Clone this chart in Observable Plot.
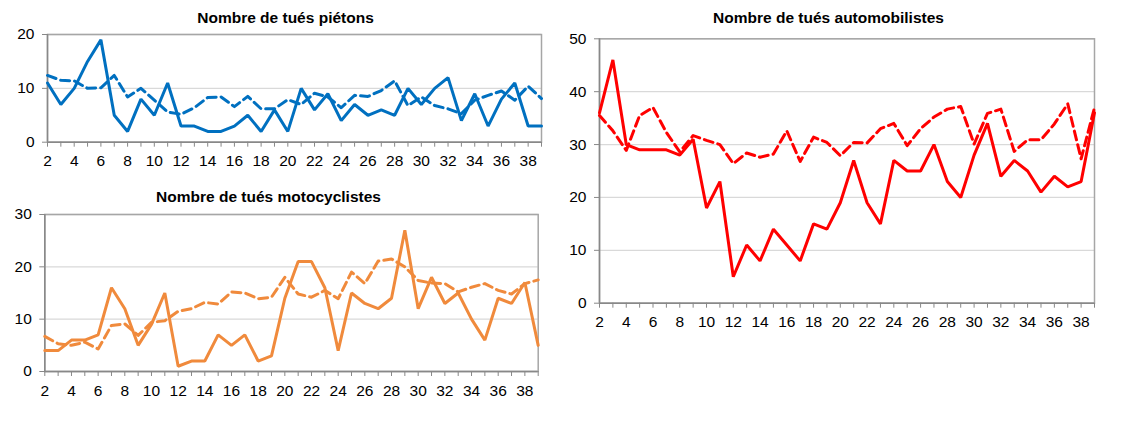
<!DOCTYPE html>
<html><head><meta charset="utf-8">
<script src="https://cdn.jsdelivr.net/npm/d3@7"></script>
<script src="https://cdn.jsdelivr.net/npm/@observablehq/plot@0.6"></script>
<style>
body{margin:0;background:#fff;font-family:"Liberation Sans",Arial,sans-serif;}
#root{position:relative;width:1132px;height:424px;overflow:hidden;background:#fff;}
.t{position:absolute;font-weight:bold;font-size:15.5px;color:#000;transform:translateX(-50%);white-space:nowrap;line-height:18px;}
.p{position:absolute;}
</style></head><body><div id="root"></div>
<script>
const weeks = [2,3,4,5,6,7,8,9,10,11,12,13,14,15,16,17,18,19,20,21,22,23,24,25,26,27,28,29,30,31,32,33,34,35,36,37,38,39];

const pietonsSolid  = [11,7,10,15,19, 5,2,8,5,11, 3,3,2,2,3, 5,2,6,2,10, 6,9,4,7,5, 6,5,10,7,10, 12,4,9,3,8, 11,3,3];
const pietonsDashed = [12.4,11.5,11.4,10,10.1, 12.4,8.4,10,7.8,5.6, 5.2,6.4,8.3,8.4,6.6, 8.5,6.2,6.2,7.9,7, 9.1,8.4,6.4,8.7,8.5, 9.6,11.4,6.8,8.4,6.8, 6.2,5.3,7.8,8.7,9.5, 7.8,10.4,8.1];

const motoSolid  = [4,4,6,6,7, 16,12,5,9,15, 1,2,2,7,5, 7,2,3,14,21, 21,16,4,15,13, 12,14,27,12,18, 13,15,10,6,14, 13,17,5];
const motoDashed = [6.7,5.3,5,5.6,4.3, 8.8,9.1,6.9,9.4,9.7, 11.5,12,13.2,12.9,15.2, 15,13.9,14.2,18,14.8, 14.2,15.5,13.9,19,16.8, 21.1,21.5,20,17.4,16.9, 16.8,15.2,16.1,16.8,15.5, 14.8,16.8,17.5];

const autoSolid  = [36,46,30,29,29, 29,28,31,18,23, 5,11,8,14,11, 8,15,14,19,27, 19,15,27,25,25, 30,23,20,28,34, 24,27,25,21,24, 22,23,36];
const autoDashed = [35.5,32.6,28.9,35.5,37, 32.3,28.6,31.7,30.8,30, 26.4,28.4,27.6,28.2,32.6, 26.8,31.4,30.4,27.9,30.4, 30.3,33,34,29.8,33, 35.2,36.7,37.2,30.1,35.9, 36.7,28.7,30.9,30.9,33.9, 37.7,27.3,37];

const titles = ["Nombre de tués piétons", "Nombre de tués motocyclistes", "Nombre de tués automobilistes"];
const yTicksP = [0,10,20];
const yTicksM = [0,10,20,30];
const yTicksA = [0,10,20,30,40,50];

const root = document.getElementById("root");

function addTitle(text, cx, cy) {
  const d = document.createElement("div");
  d.className = "t";
  d.textContent = text;
  d.style.left = cx + "px";
  d.style.top = (cy - 9) + "px";
  root.appendChild(d);
}

function panel(o) {
  const rows = weeks.map((w, i) => ({w, s: o.solid[i], d: o.dashed[i]}));
  const ymax = o.yticks[o.yticks.length - 1];
  const chart = Plot.plot({
    width: o.width, height: o.height,
    marginLeft: o.ml, marginRight: o.mr, marginTop: o.mt, marginBottom: o.mb,
    style: {fontFamily: "'Liberation Sans', Arial, sans-serif", fontSize: "15.5px", color: "#000", background: "#fff", overflow: "visible"},
    x: {domain: [2, 39], axis: null},
    y: {domain: [0, ymax], axis: null},
    marks: [
      Plot.gridY(o.yticks, {stroke: "#d9d9d9", strokeOpacity: 1, strokeWidth: 1.3}),
      Plot.frame({stroke: "#a6a6a6", strokeWidth: 1.5}),
      Plot.axisY({ticks: o.yticks, tickSize: 5, tickPadding: 8, stroke: "#888", label: null, fill: "#000"}),
      Plot.axisX({ticks: weeks, tickSize: 5, tickPadding: 8, stroke: "#888", label: null, fill: "#000",
        tickFormat: d => d % 2 === 0 ? String(d) : ""}),
      Plot.ruleX([2], {stroke: "#888", strokeWidth: 1.5}),
      Plot.ruleY([0], {stroke: "#888", strokeWidth: 1.5}),
      Plot.lineY(rows, {x: "w", y: "d", stroke: o.color, strokeWidth: 3, strokeDasharray: "9,5", clip: false}),
      Plot.lineY(rows, {x: "w", y: "s", stroke: o.color, strokeWidth: 3, strokeLinejoin: "miter"})
    ]
  });
  chart.classList.add("p");
  chart.style.left = o.left + "px";
  chart.style.top = o.top + "px";
  root.appendChild(chart);
}

panel({left: 0, top: 25, width: 560, height: 160, ml: 47, mr: 19, mt: 9, mb: 43.3,
  yticks: yTicksP, solid: pietonsSolid, dashed: pietonsDashed, color: "#0070c0"});
panel({left: 0, top: 200, width: 560, height: 215, ml: 44.3, mr: 22.3, mt: 14, mb: 44,
  yticks: yTicksM, solid: motoSolid, dashed: motoDashed, color: "#f08a3c"});
panel({left: 560, top: 20, width: 572, height: 330, ml: 39, mr: 38, mt: 18.3, mb: 47.3,
  yticks: yTicksA, solid: autoSolid, dashed: autoDashed, color: "#ff0000"});

addTitle(titles[0], 285.5, 18);
addTitle(titles[1], 268.5, 196.5);
addTitle(titles[2], 828.5, 18);
</script>
</body></html>
